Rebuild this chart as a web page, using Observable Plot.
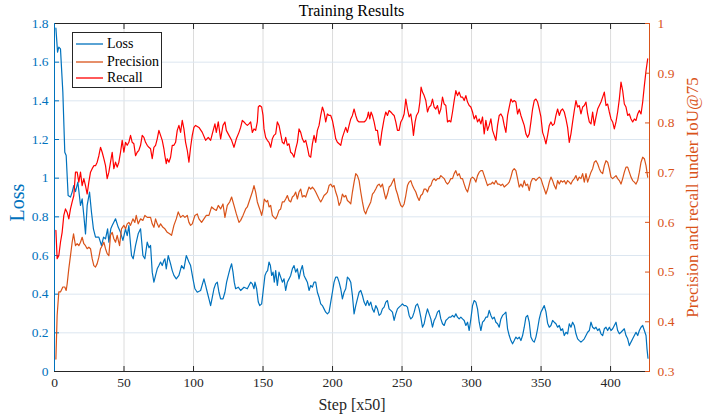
<!DOCTYPE html>
<html><head><meta charset="utf-8">
<script src="https://cdn.jsdelivr.net/npm/d3@7"></script>
<script src="https://cdn.jsdelivr.net/npm/@observablehq/plot@0.6"></script>
<style>
body{margin:0;background:#fff;}
#wrap{position:relative;width:715px;height:417px;font-family:"Liberation Serif","Times New Roman",serif;overflow:hidden;}
#wrap svg{position:absolute;left:0;top:0;}
#wrap svg text{font-family:"Liberation Serif","Times New Roman",serif;}
#title{position:absolute;top:3px;left:54px;width:595px;text-align:center;font-size:16px;line-height:16px;color:#000;}
#legend{position:absolute;left:72px;top:32px;width:90px;height:56px;border:1px solid #262626;background:#fff;font-size:14px;box-sizing:border-box;z-index:5;}
.item{position:absolute;left:3px;height:17px;display:flex;align-items:center;white-space:nowrap;color:#000;}
.item svg{position:static !important;margin-right:3px;}
g[aria-label="x-axis label"] text{font-size:16px;}
#plotLeft g[aria-label="y-axis label"] text{font-size:20px;}
#plotRight g[aria-label="y-axis label"] text{font-size:17px;}
</style>
</head><body>
<div id="wrap">
  <div id="title">Training Results</div>
  <div id="legend"></div>
</div>
<script>
// ---------- data ----------
const xTicks = [0, 50, 100, 150, 200, 250, 300, 350, 400];
const lossTicks = [0, 0.2, 0.4, 0.6, 0.8, 1, 1.2, 1.4, 1.6, 1.8];
const rightTicks = [0.3, 0.4, 0.5, 0.6, 0.7, 0.8, 0.9, 1];
const seriesNames = ["Loss", "Precision", "Recall"];
const seriesColors = ["#0072BD", "#D95319", "#FF0000"];

const lossSeries = [
[1,1.776],[2.2,1.652],[3.1,1.678],[4.3,1.669],[6.0,1.445],[7.4,1.134],[8.4,1.117],[9.8,0.910],[11.5,0.902],[12.7,0.928],[13.9,0.962],[15.1,0.930],[16.8,0.979],[18.7,0.859],[19.9,0.893],[21.1,0.807],[22.3,0.712],[23.5,0.859],[25.2,0.928],[26.6,0.824],[28.0,0.738],[29.5,0.695],[31.9,0.695],[33.8,0.652],[35.3,0.695],[36.7,0.686],[38.2,0.738],[39.1,0.669],[40.5,0.738],[41.5,0.755],[43.9,0.790],[45.8,0.747],[47.4,0.721],[49.2,0.678],[51.1,0.738],[52.3,0.703],[53.5,0.755],[55.4,0.600],[56.6,0.583],[58.3,0.652],[60.2,0.712],[61.9,0.738],[63.6,0.600],[65.0,0.583],[66.7,0.669],[68.0,0.640],[69.1,0.652],
[70.3,0.514],[71.5,0.462],[72.7,0.497],[73.9,0.531],[75.1,0.548],[76.3,0.566],[77.5,0.548],[78.7,0.574],[79.4,0.583],[80.4,0.531],[81.8,0.600],[83.5,0.557],[84.7,0.522],[85.9,0.497],[87.6,0.479],[89.5,0.497],[91.4,0.548],[93.1,0.531],[94.8,0.600],[96.7,0.566],[97.9,0.548],[99.6,0.479],[101.0,0.428],[102.7,0.410],[105.1,0.419],[107.5,0.479],[108.7,0.445],[109.9,0.410],[111.1,0.376],[112.3,0.341],[113.5,0.384],[114.7,0.428],[115.9,0.453],[117.1,0.462],[118.3,0.410],[119.5,0.376],[121.2,0.376],[122.6,0.410],[123.8,0.462],[125.0,0.497],[126.2,0.531],[127.4,0.557],[128.4,0.514],[129.3,0.462],[130.3,0.428],[132.2,0.436],[133.9,0.419],[136.3,0.436],[138.7,0.428],[141.1,0.462],
[142.3,0.453],[143.5,0.428],[144.2,0.462],[145.4,0.428],[146.6,0.359],[147.6,0.341],[149.0,0.350],[150.0,0.410],[151.4,0.497],[152.4,0.514],[153.3,0.522],[154.3,0.566],[155.3,0.548],[156.2,0.497],[157.2,0.514],[158.1,0.462],[159.1,0.522],[160.3,0.445],[161.5,0.514],[162.7,0.488],[163.9,0.462],[165.1,0.479],[166.3,0.419],[167.5,0.462],[168.7,0.479],[169.9,0.497],[171.1,0.531],[172.3,0.548],[173.5,0.514],[174.7,0.531],[175.9,0.479],[177.1,0.522],[178.3,0.548],[179.5,0.497],[180.7,0.479],[181.9,0.462],[183.1,0.419],[184.3,0.445],[185.5,0.436],[186.7,0.462],[187.9,0.462],[189.1,0.410],[190.3,0.384],[191.5,0.350],[192.7,0.341],[193.9,0.324],[195.1,0.307],[196.3,0.298],[197.5,0.307],[198.7,0.359],[199.9,0.410],[201.1,0.462],[202.3,0.488],[203.5,0.488],[204.7,0.462],[205.9,0.428],[207.1,0.376],[208.3,0.410],[209.5,0.428],[210.7,0.488],[211.9,0.479],[213.1,0.462],
[214.3,0.393],[215.5,0.298],[216.7,0.341],[217.9,0.376],[219.1,0.410],[220.3,0.419],[221.5,0.393],[222.7,0.359],[223.9,0.341],[225.1,0.367],[226.3,0.341],[227.5,0.359],[228.7,0.324],[229.9,0.307],[231.1,0.341],[232.3,0.324],[233.5,0.290],[234.7,0.298],[235.9,0.324],[237.1,0.333],[238.3,0.359],[239.5,0.367],[240.7,0.324],[241.9,0.316],[243.1,0.307],[244.3,0.264],[245.5,0.298],[246.7,0.324],[247.9,0.333],[249.1,0.341],[250.3,0.350],[251.5,0.341],[252.7,0.341],[253.9,0.333],[255.1,0.290],[256.3,0.272],[257.5,0.281],[258.7,0.307],[259.9,0.341],[261.1,0.350],[262.3,0.324],[263.5,0.281],[264.7,0.229],[265.9,0.247],[267.1,0.290],[268.3,0.324],[269.5,0.298],[270.7,0.272],[271.9,0.229],[273.1,0.264],[274.3,0.281],[275.5,0.307],[276.7,0.316],[277.9,0.272],[279.1,0.247],[280.3,0.238],[281.5,0.264],[282.7,0.272],[283.9,0.281],[285.1,0.281],
[286.3,0.290],[287.5,0.281],[288.7,0.298],[289.9,0.281],[291.1,0.272],[292.3,0.281],[293.5,0.272],[294.7,0.264],[295.9,0.238],[297.1,0.255],[298.3,0.212],[299.5,0.272],[300.7,0.341],[301.9,0.367],[303.1,0.359],[304.3,0.324],[305.5,0.255],[306.7,0.212],[307.9,0.255],[309.1,0.264],[310.3,0.281],[311.5,0.281],[312.7,0.316],[313.9,0.290],[315.1,0.272],[316.3,0.281],[317.5,0.255],[318.7,0.247],[319.9,0.229],[321.1,0.272],[322.3,0.290],[323.5,0.298],[324.7,0.307],[325.9,0.221],[327.1,0.186],[328.3,0.160],[329.5,0.143],[330.7,0.160],[331.9,0.178],[333.1,0.169],[334.3,0.178],[335.5,0.160],[336.7,0.186],[337.9,0.229],[339.1,0.281],[340.3,0.290],[341.5,0.255],[342.7,0.178],[343.9,0.160],[345.1,0.152],[346.3,0.178],[347.5,0.221],[348.7,0.272],[349.9,0.307],[351.1,0.324],[352.3,0.341],[353.5,0.310],[354.7,0.250],[355.9,0.229],[357.1,0.238],
[358.3,0.264],[359.5,0.255],[360.7,0.247],[361.9,0.229],[363.1,0.238],[364.3,0.212],[365.5,0.221],[366.7,0.186],[367.9,0.203],[369.1,0.195],[370.3,0.247],[371.5,0.229],[372.7,0.255],[373.9,0.238],[375.1,0.195],[376.3,0.169],[377.5,0.160],[378.7,0.152],[379.9,0.160],[381.1,0.169],[382.3,0.186],[383.5,0.203],[384.7,0.212],[385.9,0.255],[387.1,0.229],[388.3,0.221],[389.5,0.229],[390.7,0.212],[391.9,0.221],[393.1,0.195],[394.3,0.186],[395.5,0.221],[396.7,0.229],[397.9,0.212],[399.1,0.229],[400.3,0.212],[401.5,0.221],[402.7,0.238],[403.9,0.255],[405.1,0.212],[406.3,0.195],[407.5,0.203],[408.7,0.212],[409.9,0.221],[411.1,0.186],[412.3,0.169],[413.5,0.134],[414.7,0.152],[415.9,0.169],[417.1,0.186],[418.3,0.203],[419.5,0.186],[420.7,0.212],[421.9,0.229],[423.1,0.238],[424.3,0.212],[425.5,0.186],[426.2,0.117],[426.9,0.069]
];

const precisionSeries = [
[1,0.325],[1.9,0.413],[3.1,0.460],[4.3,0.460],[6.0,0.470],[7.4,0.470],[8.4,0.463],[9.1,0.476],[10.3,0.507],[11.5,0.533],[12.7,0.560],[13.7,0.577],[15.1,0.553],[16.3,0.557],[17.5,0.553],[18.7,0.560],[19.9,0.570],[21.1,0.557],[22.3,0.553],[23.5,0.547],[24.7,0.550],[25.9,0.547],[27.1,0.527],[28.3,0.513],[29.5,0.510],[30.7,0.517],[31.9,0.530],[33.1,0.547],[34.3,0.553],[35.5,0.560],[36.7,0.547],[37.9,0.537],[39.1,0.533],[40.3,0.574],[41.5,0.580],[42.7,0.567],[43.9,0.560],[45.1,0.574],[46.8,0.553],[48.2,0.587],[49.9,0.594],[51.1,0.587],[52.3,0.597],[53.5,0.600],[54.7,0.594],[56.4,0.607],[57.8,0.600],[58.8,0.614],[60.2,0.597],[61.9,0.607],[63.6,0.604],[65.0,0.614],[66.7,0.610],[69.1,0.610],
[70.3,0.597],[71.5,0.590],[72.7,0.607],[73.9,0.597],[75.1,0.590],[76.3,0.597],[78.0,0.590],[79.4,0.587],[81.1,0.580],[82.8,0.577],[84.2,0.574],[85.9,0.594],[87.6,0.607],[89.0,0.621],[90.7,0.610],[92.4,0.614],[93.8,0.610],[95.5,0.614],[96.7,0.600],[97.9,0.594],[99.1,0.597],[101.0,0.614],[102.7,0.617],[103.9,0.607],[105.8,0.600],[107.5,0.607],[109.2,0.614],[111.1,0.614],[113.0,0.631],[114.7,0.627],[116.4,0.624],[117.8,0.634],[119.5,0.627],[121.2,0.637],[122.6,0.610],[124.3,0.634],[126.0,0.641],[127.4,0.651],[129.1,0.634],[130.8,0.617],[132.7,0.600],[133.9,0.604],[135.6,0.614],[137.5,0.627],[138.7,0.631],[139.9,0.641],[141.1,0.651],
[142.3,0.661],[143.5,0.674],[144.7,0.661],[145.9,0.641],[147.1,0.631],[148.3,0.621],[149.0,0.614],[150.0,0.627],[150.9,0.647],[152.4,0.641],[153.3,0.644],[154.3,0.631],[155.5,0.634],[156.7,0.614],[157.9,0.610],[159.1,0.607],[160.3,0.614],[161.5,0.624],[162.7,0.627],[163.9,0.641],[165.1,0.641],[166.3,0.647],[167.5,0.654],[168.7,0.644],[169.9,0.641],[171.1,0.651],[172.3,0.654],[173.5,0.661],[174.7,0.647],[175.9,0.661],[177.1,0.667],[178.3,0.651],[179.5,0.654],[180.7,0.651],[181.9,0.661],[183.1,0.671],[184.3,0.667],[185.5,0.671],[186.7,0.667],[187.9,0.661],[189.1,0.654],[190.3,0.647],[191.5,0.641],[192.7,0.647],[193.9,0.654],[195.1,0.657],[196.3,0.661],[197.5,0.674],[198.7,0.677],[199.9,0.671],[201.1,0.674],[202.3,0.661],[203.5,0.651],[204.7,0.634],[205.9,0.641],[207.1,0.657],[208.3,0.651],[209.5,0.654],[210.7,0.644],[211.9,0.641],[213.1,0.637],
[214.3,0.661],[215.5,0.681],[216.7,0.698],[217.9,0.694],[219.1,0.684],[220.3,0.661],[221.5,0.641],[222.7,0.624],[223.9,0.617],[225.1,0.627],[226.3,0.634],[227.5,0.641],[228.7,0.657],[229.9,0.661],[231.1,0.667],[232.3,0.674],[233.5,0.677],[234.7,0.671],[235.9,0.677],[237.1,0.661],[238.3,0.647],[239.5,0.657],[240.7,0.671],[241.9,0.674],[243.1,0.681],[244.3,0.688],[245.5,0.667],[246.7,0.657],[247.9,0.644],[249.1,0.634],[250.3,0.631],[251.5,0.637],[252.7,0.654],[253.9,0.674],[255.1,0.681],[256.3,0.684],[257.5,0.674],[258.7,0.667],[259.9,0.661],[261.1,0.651],[262.3,0.644],[263.5,0.654],[264.7,0.657],[265.9,0.667],[267.1,0.667],[268.3,0.661],[269.5,0.671],[270.7,0.674],[271.9,0.684],[273.1,0.688],[274.3,0.684],[275.5,0.688],[276.7,0.688],[277.9,0.694],[279.1,0.691],[280.3,0.688],[281.5,0.681],[282.7,0.677],[283.9,0.681],[285.1,0.688],
[286.3,0.688],[287.5,0.698],[288.7,0.704],[289.9,0.694],[291.1,0.698],[292.3,0.688],[293.5,0.688],[294.7,0.677],[295.9,0.667],[297.1,0.661],[298.3,0.674],[299.5,0.688],[300.7,0.691],[301.9,0.688],[303.1,0.681],[304.3,0.694],[305.5,0.701],[306.7,0.704],[307.9,0.704],[309.1,0.694],[310.3,0.684],[311.5,0.674],[312.7,0.677],[313.9,0.677],[315.1,0.681],[316.3,0.677],[317.5,0.684],[318.7,0.677],[319.9,0.677],[321.1,0.674],[322.3,0.677],[323.5,0.671],[324.7,0.674],[325.9,0.677],[327.1,0.681],[328.3,0.691],[329.5,0.704],[330.7,0.708],[331.9,0.704],[333.1,0.688],[334.3,0.671],[335.5,0.677],[336.7,0.671],[337.9,0.684],[339.1,0.674],[340.3,0.677],[341.5,0.664],[342.7,0.681],[343.9,0.688],[345.1,0.688],[346.3,0.684],[347.5,0.688],[348.7,0.691],[349.9,0.688],[351.1,0.677],[352.3,0.667],[353.5,0.657],[354.7,0.667],[355.9,0.681],[357.1,0.691],
[358.3,0.684],[359.5,0.674],[360.7,0.667],[361.9,0.684],[363.1,0.677],[364.3,0.684],[365.5,0.681],[366.7,0.684],[367.9,0.677],[369.1,0.684],[370.3,0.681],[371.5,0.677],[372.7,0.684],[373.9,0.688],[375.1,0.694],[376.3,0.684],[377.5,0.691],[378.7,0.688],[379.9,0.698],[381.1,0.681],[382.3,0.698],[383.5,0.681],[384.7,0.691],[385.9,0.701],[387.1,0.708],[388.3,0.721],[389.5,0.724],[390.7,0.718],[391.9,0.708],[393.1,0.701],[394.3,0.698],[395.5,0.714],[396.7,0.724],[397.9,0.721],[399.1,0.708],[400.3,0.691],[401.5,0.688],[402.7,0.691],[403.9,0.694],[405.1,0.688],[406.3,0.684],[407.5,0.677],[408.7,0.688],[409.9,0.701],[411.1,0.711],[412.3,0.711],[413.5,0.701],[414.7,0.691],[415.9,0.684],[417.1,0.681],[418.3,0.677],[419.5,0.684],[420.7,0.701],[421.9,0.721],[423.1,0.731],[424.3,0.728],[425.5,0.714],[426.7,0.691]
];

const recallSeries = [
[1,0.584],[1.9,0.527],[3.1,0.533],[4.3,0.560],[5.5,0.580],[6.7,0.614],[7.9,0.627],[9.1,0.620],[10.3,0.607],[11.5,0.627],[12.7,0.641],[13.9,0.654],[15.1,0.701],[16.3,0.701],[17.5,0.681],[18.7,0.701],[19.9,0.674],[21.1,0.688],[22.3,0.674],[23.5,0.657],[24.7,0.681],[25.9,0.701],[27.1,0.708],[28.3,0.714],[29.5,0.714],[30.7,0.721],[31.9,0.734],[33.1,0.751],[34.3,0.741],[35.5,0.728],[36.7,0.714],[37.9,0.688],[39.1,0.701],[40.3,0.721],[41.5,0.741],[42.7,0.708],[43.9,0.721],[45.1,0.711],[46.3,0.721],[47.5,0.741],[48.7,0.765],[49.9,0.741],[51.1,0.761],[52.3,0.755],[53.5,0.761],[54.7,0.775],[55.9,0.761],[57.1,0.758],[58.3,0.734],[59.5,0.741],[60.7,0.745],[61.9,0.755],[63.1,0.775],[64.3,0.771],[65.5,0.761],[66.7,0.755],[67.9,0.751],[69.1,0.748],
[70.3,0.728],[71.5,0.751],[72.7,0.755],[73.9,0.768],[75.1,0.785],[76.3,0.775],[77.5,0.765],[78.7,0.748],[79.4,0.734],[80.4,0.718],[81.1,0.728],[82.3,0.721],[83.5,0.731],[84.7,0.755],[85.9,0.755],[87.1,0.761],[88.3,0.785],[89.5,0.795],[90.7,0.781],[91.9,0.805],[93.1,0.788],[94.3,0.761],[95.5,0.745],[96.7,0.721],[97.9,0.751],[99.1,0.775],[100.3,0.791],[101.5,0.795],[103.9,0.791],[106.3,0.781],[108.7,0.765],[110.6,0.771],[112.3,0.765],[113.5,0.778],[115.4,0.798],[116.4,0.781],[117.8,0.802],[119.5,0.768],[121.2,0.795],[122.6,0.802],[123.6,0.785],[125.5,0.775],[127.4,0.765],[129.1,0.751],[130.8,0.768],[132.7,0.781],[133.9,0.791],[135.1,0.805],[136.3,0.802],[137.5,0.798],[138.7,0.795],[139.9,0.798],[141.1,0.802],
[142.3,0.781],[143.5,0.788],[144.7,0.785],[145.9,0.802],[146.6,0.832],[147.6,0.835],[149.0,0.832],[150.0,0.815],[150.7,0.788],[151.9,0.771],[153.1,0.765],[154.3,0.761],[155.5,0.751],[156.7,0.768],[157.9,0.775],[159.1,0.778],[160.3,0.802],[161.5,0.795],[162.7,0.778],[163.9,0.761],[165.1,0.758],[166.3,0.771],[167.5,0.755],[168.7,0.758],[169.9,0.741],[171.1,0.738],[172.3,0.731],[173.5,0.748],[174.7,0.761],[175.9,0.788],[177.1,0.781],[178.3,0.768],[179.5,0.761],[180.7,0.765],[181.9,0.751],[183.1,0.734],[184.3,0.731],[185.5,0.758],[186.7,0.775],[187.9,0.761],[189.1,0.785],[190.3,0.795],[191.5,0.815],[192.7,0.832],[193.9,0.822],[195.1,0.802],[196.3,0.818],[197.5,0.815],[198.7,0.815],[199.9,0.805],[201.1,0.788],[202.3,0.768],[203.5,0.761],[204.7,0.758],[205.9,0.755],[207.1,0.771],[208.3,0.781],[209.5,0.791],[210.7,0.781],[211.9,0.795],[213.1,0.808],
[214.3,0.815],[215.5,0.828],[216.7,0.815],[217.9,0.805],[219.1,0.802],[220.3,0.802],[221.5,0.802],[222.7,0.802],[223.9,0.805],[225.1,0.812],[225.8,0.822],[226.8,0.808],[227.7,0.822],[228.7,0.815],[229.9,0.802],[231.1,0.785],[232.3,0.785],[233.5,0.761],[234.2,0.755],[235.4,0.781],[237.1,0.808],[238.3,0.822],[239.5,0.815],[240.7,0.825],[241.9,0.822],[243.1,0.818],[244.3,0.815],[245.5,0.802],[246.7,0.785],[247.9,0.785],[249.1,0.802],[250.3,0.808],[251.5,0.818],[252.7,0.848],[253.9,0.828],[255.1,0.812],[256.3,0.818],[257.5,0.795],[258.2,0.775],[259.4,0.802],[260.4,0.815],[261.8,0.822],[262.8,0.842],[263.7,0.872],[264.7,0.862],[265.9,0.855],[267.1,0.845],[268.3,0.822],[269.5,0.832],[270.7,0.835],[271.9,0.848],[273.1,0.832],[274.3,0.828],[275.5,0.835],[276.7,0.818],[277.9,0.828],[279.1,0.852],[280.3,0.838],[281.5,0.835],[282.7,0.802],[283.9,0.805],[285.1,0.802],
[286.3,0.822],[287.5,0.845],[288.7,0.865],[289.9,0.855],[291.1,0.862],[292.3,0.852],[293.5,0.852],[294.7,0.845],[295.9,0.855],[297.1,0.842],[298.3,0.835],[299.5,0.832],[300.7,0.822],[301.9,0.808],[303.1,0.815],[304.3,0.802],[305.5,0.808],[306.7,0.798],[307.9,0.812],[309.1,0.778],[310.3,0.805],[311.5,0.785],[312.7,0.795],[313.9,0.808],[315.1,0.785],[316.3,0.775],[317.5,0.765],[318.7,0.795],[319.9,0.815],[321.1,0.818],[322.3,0.812],[323.5,0.795],[324.7,0.781],[325.9,0.815],[327.1,0.832],[328.3,0.848],[329.5,0.842],[330.7,0.845],[331.9,0.842],[333.1,0.818],[334.3,0.828],[335.5,0.815],[336.7,0.805],[337.9,0.795],[339.1,0.778],[340.3,0.771],[341.5,0.778],[342.7,0.802],[343.9,0.828],[345.1,0.845],[346.3,0.848],[347.5,0.842],[348.7,0.828],[349.9,0.812],[351.1,0.781],[352.3,0.771],[353.5,0.758],[354.7,0.775],[355.9,0.795],[357.1,0.802],
[358.3,0.795],[359.5,0.798],[360.7,0.815],[361.9,0.828],[363.1,0.815],[364.3,0.825],[365.5,0.828],[366.7,0.822],[367.9,0.808],[369.1,0.791],[370.3,0.761],[371.5,0.778],[372.7,0.802],[373.9,0.825],[375.1,0.845],[376.3,0.832],[377.5,0.835],[378.7,0.818],[379.9,0.832],[381.1,0.835],[382.3,0.842],[383.5,0.818],[384.7,0.802],[385.9,0.798],[387.1,0.822],[388.3,0.795],[389.5,0.812],[390.7,0.828],[391.9,0.835],[393.1,0.842],[394.3,0.852],[395.5,0.862],[396.7,0.835],[397.9,0.838],[399.1,0.822],[400.3,0.808],[401.5,0.802],[402.7,0.788],[403.9,0.802],[405.1,0.822],[406.3,0.848],[407.5,0.882],[408.7,0.865],[409.9,0.838],[411.1,0.832],[412.3,0.815],[413.5,0.818],[414.7,0.808],[415.9,0.802],[417.1,0.808],[418.3,0.805],[419.5,0.818],[420.7,0.825],[421.9,0.818],[423.1,0.842],[424.3,0.875],[425.5,0.905],[426.7,0.929]
];

const xDomain = [0, 428];
const lossDomain = [0, 1.8];
const rightDomain = [0.3, 1];

// ---------- build ----------
const toRows = (pairs) => pairs.map(([step, value]) => ({step, value}));
const lossRows = toRows(lossSeries);
const precRows = toRows(precisionSeries);
const recRows = toRows(recallSeries);

const W = 715, H = 417;
const common = {
  width: W, height: H,
  marginTop: 23, marginRight: 66, marginBottom: 46, marginLeft: 54,
  style: {fontFamily: '"Liberation Serif","Times New Roman",serif', fontSize: "13.5px", background: "transparent", overflow: "visible"}
};
const fmt = d => String(+d.toFixed(1));

const plotLeft = Plot.plot({
  ...common,
  x: {domain: xDomain, label: null},
  y: {domain: lossDomain, label: null},
  marks: [
    Plot.gridX(xTicks, {stroke: "#dcdcdc", strokeOpacity: 1}),
    Plot.gridY(lossTicks, {stroke: "#dce6f0", strokeOpacity: 1}),
    Plot.line(lossRows, {x: "step", y: "value", stroke: seriesColors[0], strokeWidth: 1.2}),
    Plot.axisX(xTicks, {anchor: "bottom", tickSize: -5, tickPadding: 11, color: "#262626", tickFormat: d => d,
      label: "Step [x50]", labelAnchor: "center", labelArrow: "none", labelOffset: 38}),
    Plot.axisX(xTicks, {anchor: "top", tickSize: -5, color: "#262626", tickFormat: () => "", label: null}),
    Plot.axisY(lossTicks, {anchor: "left", tickSize: -5, tickPadding: 11, color: seriesColors[0], tickFormat: fmt,
      label: "Loss", labelAnchor: "center", labelArrow: "none", labelOffset: 45}),
    Plot.ruleY([lossDomain[0]], {stroke: "#262626"}),
    Plot.ruleY([lossDomain[1]], {stroke: "#262626"}),
    Plot.ruleX([xDomain[0]], {stroke: seriesColors[0]})
  ]
});
plotLeft.id = "plotLeft";

const plotRight = Plot.plot({
  ...common,
  x: {domain: xDomain, axis: null},
  y: {domain: rightDomain, label: null},
  marks: [
    Plot.line(precRows, {x: "step", y: "value", stroke: seriesColors[1], strokeWidth: 1.2}),
    Plot.line(recRows, {x: "step", y: "value", stroke: seriesColors[2], strokeWidth: 1.2}),
    Plot.axisY(rightTicks, {anchor: "right", tickSize: -5, tickPadding: 13, color: seriesColors[1], tickFormat: fmt,
      label: "Precision and recall under IoU@75", labelAnchor: "center", labelArrow: "none", labelOffset: 48}),
    Plot.ruleX([xDomain[1]], {stroke: seriesColors[1]})
  ]
});
plotRight.id = "plotRight";

const wrap = document.getElementById("wrap");
wrap.insertBefore(plotLeft, wrap.firstChild);
wrap.insertBefore(plotRight, plotLeft.nextSibling);

// nudge the "Loss" label a few pixels down, as in the reference
plotLeft.querySelectorAll('g[aria-label="y-axis label"] text').forEach(t => {
  const tr = t.getAttribute("transform") || "";
  t.setAttribute("transform", "translate(0,5) " + tr);
});

// legend
const legend = document.getElementById("legend");
const centers = [10.5, 28.5, 45];
seriesNames.forEach((name, i) => {
  const item = document.createElement("div");
  item.className = "item";
  item.style.top = (centers[i] - 8.5) + "px";
  item.innerHTML = `<svg width="28" height="4"><line x1="0" x2="27" y1="2" y2="2" stroke="${seriesColors[i]}" stroke-width="1.3"/></svg><span>${name}</span>`;
  legend.appendChild(item);
});
</script>
</body></html>
